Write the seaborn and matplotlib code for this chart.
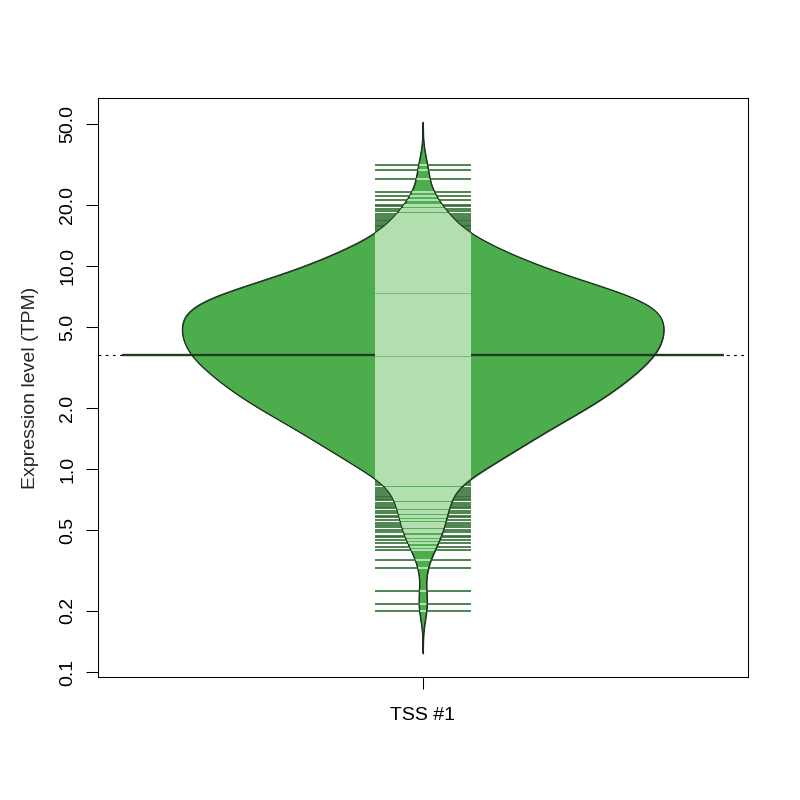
import numpy as np
import pandas as pd
import matplotlib
matplotlib.use("Agg")
import matplotlib.pyplot as plt
import seaborn as sns
from matplotlib.patches import PathPatch
from matplotlib.ticker import NullLocator

# values: single lines below the dense block
low_tail = [0.20, 0.216, 0.25, 0.325, 0.356, 0.40, 0.415, 0.43, 0.445, 0.46,
            0.47, 0.49, 0.50, 0.52, 0.53, 0.545, 0.56, 0.58, 0.59, 0.61,
            0.62, 0.64, 0.65, 0.665, 0.68, 0.70, 0.71, 0.73, 0.74, 0.755,
            0.77, 0.79]

# dense block: TPM level and how many transcripts sit there (from bean width)
core_tpm = [0.81, 0.83, 0.85, 0.87, 0.89, 0.91, 0.93, 0.95, 0.97, 0.99,
            1.01, 1.03, 1.06, 1.08, 1.11, 1.13, 1.16, 1.18, 1.21, 1.24,
            1.27, 1.30, 1.33, 1.36, 1.39, 1.42, 1.45, 1.49, 1.52, 1.56,
            1.59, 1.63, 1.67, 1.71, 1.75, 1.79, 1.83, 1.87, 1.91, 1.96,
            2.00, 2.05, 2.10, 2.14, 2.19, 2.24, 2.29, 2.35, 2.40, 2.46,
            2.51, 2.57, 2.63, 2.69, 2.75, 2.82, 2.88, 2.95, 3.02, 3.09,
            3.16, 3.23, 3.31, 3.38, 3.46, 3.54, 3.63, 3.71, 3.80, 3.89,
            3.98, 4.07, 4.17, 4.27, 4.37, 4.47, 4.57, 4.68, 4.79, 4.90,
            5.01, 5.13, 5.25, 5.37, 5.50, 5.62, 5.75, 5.89, 6.03, 6.17,
            6.31, 6.46, 6.61, 6.76, 6.92, 7.08, 7.24, 7.41, 7.59, 7.76,
            7.94, 8.13, 8.32, 8.51, 8.71, 8.91, 9.12, 9.33, 9.55, 9.77,
            10.0, 10.2, 10.5, 10.7, 11.0, 11.2, 11.5, 11.7, 12.0, 12.3,
            12.6, 12.9, 13.2, 13.5]
core_n = [1, 1, 1, 2, 1, 2, 2, 2, 2, 2,
          2, 3, 2, 3, 3, 3, 3, 3, 3, 4,
          4, 3, 4, 4, 4, 4, 4, 5, 4, 5,
          5, 5, 5, 5, 5, 6, 5, 6, 6, 6,
          6, 6, 6, 7, 6, 7, 7, 7, 7, 7,
          7, 7, 8, 7, 8, 8, 8, 8, 8, 8,
          8, 8, 8, 9, 8, 9, 9, 9, 9, 9,
          9, 9, 9, 9, 9, 9, 9, 9, 9, 9,
          9, 9, 9, 9, 9, 9, 9, 9, 9, 9,
          9, 9, 9, 9, 8, 8, 8, 7, 7, 7,
          7, 6, 6, 6, 6, 5, 5, 5, 5, 4,
          4, 4, 4, 4, 3, 4, 3, 3, 3, 3,
          3, 2, 2, 2]

# single lines above the dense block
high_tail = [13.6, 13.8, 14.1, 14.3, 14.5, 14.7, 15.0, 15.3, 15.5, 15.8,
             16.0, 16.3, 16.6, 16.9, 17.3, 17.7, 18.1, 18.6, 19.2, 19.7,
             20.1, 21.1, 22.2, 23.2, 26.7, 29.9, 31.5]

group = "TSS #1"
y_ticks = [0.1, 0.2, 0.5, 1, 2, 5, 10, 20, 50]
y_ticklabels = ["0.1", "0.2", "0.5", "1.0", "2.0", "5.0", "10.0", "20.0", "50.0"]

tpm = np.concatenate([low_tail, np.repeat(core_tpm, core_n), high_tail])
df = pd.DataFrame({"tss": group, "tpm": tpm})

bean_col = "#4CAD4C"
light_col = "#B2DEB0"
dark_col = "#2F6F30"
avg_col = "#1F3D20"

sns.set_style("ticks")
plt.rcParams["font.family"] = ["Liberation Sans", "DejaVu Sans"]
plt.rcParams["font.size"] = 14

fig = plt.figure(figsize=(8, 8), dpi=100)
ax = fig.add_axes([0.1225, 0.15375, 0.8125, 0.72375])

# density on the log scale, narrow bandwidth like the bean
logv = np.log10(tpm)
bw = 0.07 / logv.std()
sns.violinplot(data=df, x="tss", y="tpm", log_scale=True, color=bean_col,
               saturation=1, inner=None, cut=3, bw_method=bw, gridsize=600,
               width=0.8, linewidth=0.7, linecolor="#1B2E1B", ax=ax)

bean = ax.collections[0]
bean.set_zorder(1)
bean_path = bean.get_paths()[0]

# average line (geometric mean) + dotted overall line
gmean = 10 ** logv.mean()
ax.axhline(gmean, color="black", lw=0.8, ls=(0, (2.5, 4)), zorder=0.8)
ax.hlines(gmean, -0.5, 0.5, color=avg_col, lw=1.7, zorder=2)

# bean lines: dark outside the bean, light inside
ax.hlines(tpm, -0.08, 0.08, color=dark_col, lw=1.2, zorder=3)
inner = ax.hlines(tpm, -0.08, 0.08, color=light_col, lw=1.5, zorder=4)
inner.set_clip_path(bean_path, ax.transData)

ax.add_patch(PathPatch(bean_path, transform=ax.transData, fill=False,
                       edgecolor="#1B2E1B", lw=0.7, zorder=5))

ax.set_xlim(-0.54, 0.54)
ax.set_ylim(0.0945, 67.3)
ax.set_yticks(y_ticks)
ax.set_yticklabels(y_ticklabels)
ax.yaxis.set_minor_locator(NullLocator())
ax.tick_params(axis="y", labelrotation=90, length=8.6, width=0.75, pad=7, colors="black")
ax.tick_params(axis="x", length=8.6, width=0.75, pad=13, colors="black")
for lab in ax.get_yticklabels():
    lab.set_va("center")

for sp in ax.spines.values():
    sp.set_visible(True)
    sp.set_linewidth(0.75)
    sp.set_color("black")

ax.set_xlabel("")
ax.set_ylabel("Expression level (TPM)")
ax.yaxis.set_label_coords(-0.091, 0.5)

fig.savefig("out.png", dpi=100)
